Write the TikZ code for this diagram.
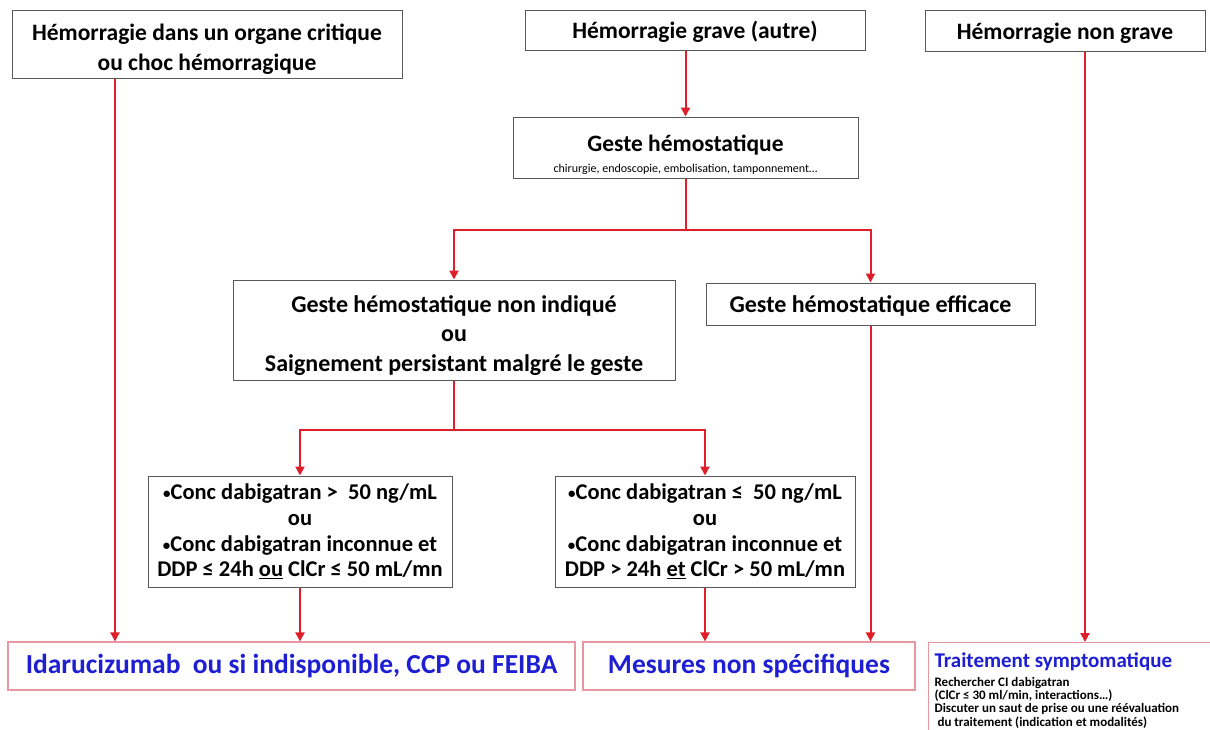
\documentclass[tikz,border=0pt]{standalone}
\usepackage{fontspec}
\setmainfont{Carlito}
\usetikzlibrary{arrows.meta}
\definecolor{arrowred}{RGB}{222,30,40}
\definecolor{pinkline}{RGB}{232,150,160}
\definecolor{textblue}{RGB}{30,30,210}
\newcommand{\fs}[2]{\fontsize{#1}{#2}\selectfont}
\newcommand{\blt}{\raisebox{1pt}{\fs{15}{15}•}}
\tikzset{
  box/.style={draw=black!65, line width=1pt, fill=white, align=center,
    inner sep=0pt, font=\bfseries\fs{23.5}{30}},
  result/.style={draw=pinkline, line width=1.2pt, fill=white, text=textblue,
    inner sep=0pt, font=\bfseries\fs{27.5}{30}},
  link/.style={arrowred, line width=2pt},
  flow/.style={link, -{Triangle[length=9pt,width=9pt]}}
}
\begin{document}
\begin{tikzpicture}[x=1pt,y=-1pt]
  \useasboundingbox[fill=white] (0,0) rectangle (1210,729);
  \node[box, minimum width=390, minimum height=68] (critique) at (207,44)
    {\rule{0pt}{26pt}Hémorragie dans un organe critique\\ou choc hémorragique};
  \node[box, minimum width=340, minimum height=40] (grave) at (695,30)
    {\rule{0pt}{21pt}Hémorragie grave (autre)};
  \node[box, minimum width=280, minimum height=41] (nongrave) at (1065,30.5)
    {\rule{0pt}{22pt}Hémorragie non grave};
  \node[box, minimum width=345, minimum height=61] (geste) at (685.5,147.5)
    {\rule{0pt}{31pt}Geste hémostatique\\[-9pt]{\fs{12}{12}\mdseries chirurgie, endoscopie, embolisation, tamponnement\dots}};
  \node[box, minimum width=442, minimum height=100, font=\bfseries\fs{24}{29.5}] (nonindique) at (454,330)
    {\rule{0pt}{28pt}Geste hémostatique non indiqué\\ou\\Saignement persistant malgré le geste};
  \node[box, minimum width=329, minimum height=42, font=\bfseries\fs{24}{30}] (efficace) at (870.5,304)
    {\rule{0pt}{21pt}Geste hémostatique efficace};
  \node[box, minimum width=304, minimum height=111, font=\bfseries\fs{22.5}{25.7}] (concsup) at (300,531.5)
    {\blt Conc dabigatran >\ \ 50 ng/mL\\ou\\\blt Conc dabigatran inconnue et\\DDP ≤ 24h \underline{ou} ClCr ≤ 50 mL/mn};
  \node[box, minimum width=300, minimum height=111, font=\bfseries\fs{22.5}{25.7}] (concinf) at (705,531.5)
    {\blt Conc dabigatran ≤\ \ 50 ng/mL\\ou\\\blt Conc dabigatran inconnue et\\DDP > 24h \underline{et} ClCr > 50 mL/mn};
  \node[result, minimum width=567, minimum height=48] (idaru) at (291.5,666)
    {Idarucizumab\ \ ou si indisponible, CCP ou FEIBA};
  \node[result, minimum height=96, anchor=north west,
    text width=380pt, align=flush left, inner xsep=6pt, inner ysep=10pt,
    font=\bfseries\fs{21}{21}] (symptom) at (928,642)
    {Traitement symptomatique\\[5pt]
     \color{black}\fs{13}{13.4}Rechercher CI dabigatran\\
     (ClCr ≤ 30 ml/min, interactions\dots)\\
     Discuter un saut de prise ou une réévaluation\\
     \ du traitement (indication et modalités)\par};
  \node[result, minimum width=332, minimum height=48] (mesures) at (749,666)
    {Mesures non spécifiques};
  \coordinate (split1) at (685.5,230);
  \coordinate (split2) at (454,430);
  \draw[flow] ([xshift=-92pt]critique.south) -- ([xshift=-92pt]critique.south |- idaru.north);
  \draw[flow] (geste.north |- grave.south) -- (geste.north);
  \draw[link] (geste.south) -- (split1);
  \draw[flow] (split1) -| (nonindique.north);
  \draw[flow] (split1) -| (efficace.north);
  \draw[link] (nonindique.south) -- (split2);
  \draw[flow] (split2) -| (concsup.north);
  \draw[flow] (split2) -| (concinf.north);
  \draw[flow] (concsup.south) -- (concsup.south |- idaru.north);
  \draw[flow] (concinf.south) -- (concinf.south |- mesures.north);
  \draw[flow] (efficace.south) -- (efficace.south |- mesures.north);
  \draw[flow] ([xshift=20pt]nongrave.south) -- ([xshift=20pt]nongrave.south |- symptom.north);
\end{tikzpicture}
\end{document}
